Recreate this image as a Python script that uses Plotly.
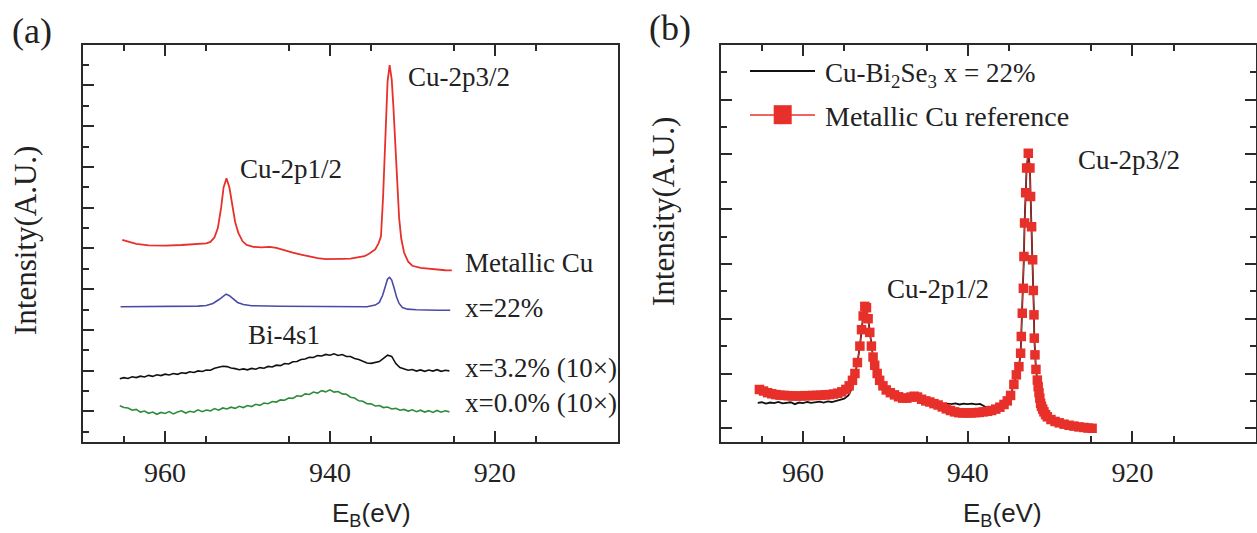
import plotly.graph_objects as go

# ---------------- Panel (a) data ----------------
E_noisy = [965.5, 965.0, 964.5, 964.0, 963.5, 963.0, 962.5, 962.0, 961.5, 961.0,
           960.5, 960.0, 959.5, 959.0, 958.5, 958.0, 957.5, 957.0, 956.5, 956.0,
           955.5, 955.0, 954.5, 954.0, 953.5, 953.0, 952.5, 952.0, 951.5, 951.0,
           950.5, 950.0, 949.5, 949.0, 948.5, 948.0, 947.5, 947.0, 946.5, 946.0,
           945.5, 945.0, 944.5, 944.0, 943.5, 943.0, 942.5, 942.0, 941.5, 941.0,
           940.5, 940.0, 939.5, 939.0, 938.5, 938.0, 937.5, 937.0, 936.5, 936.0,
           935.5, 935.0, 934.5, 934.0, 933.5, 933.0, 932.5, 932.0, 931.5, 931.0,
           930.5, 930.0, 929.5, 929.0, 928.5, 928.0, 927.5, 927.0, 926.5, 926.0,
           925.5]

x00_y = [1.28, 1.19, 1.17, 1.06, 1.10, 0.97, 1.02, 0.91, 0.97, 0.86,
         0.95, 0.90, 0.99, 0.88, 0.97, 1.03, 0.92, 1.01, 0.96, 1.08,
         0.99, 1.07, 1.03, 1.14, 1.06, 1.17, 1.12, 1.21, 1.15, 1.25,
         1.19, 1.29, 1.24, 1.35, 1.30, 1.41, 1.38, 1.49, 1.46, 1.57,
         1.55, 1.66, 1.64, 1.77, 1.74, 1.86, 1.83, 1.95, 1.90, 2.02,
         1.96, 2.06, 1.95, 1.98, 1.86, 1.84, 1.70, 1.66, 1.52, 1.50,
         1.38, 1.37, 1.27, 1.29, 1.19, 1.22, 1.12, 1.15, 1.06, 1.10,
         1.02, 1.08, 0.99, 1.06, 0.97, 1.04, 0.95, 1.05, 0.96, 1.03,
         0.98]

x32_y = [2.60, 2.66, 2.62, 2.70, 2.66, 2.73, 2.69, 2.77, 2.72, 2.80,
         2.76, 2.83, 2.79, 2.86, 2.82, 2.90, 2.87, 2.95, 2.91, 2.99,
         2.96, 3.03, 3.02, 3.12, 3.17, 3.22, 3.20, 3.13, 3.10, 3.05,
         3.09, 3.04, 3.11, 3.07, 3.15, 3.12, 3.21, 3.18, 3.27, 3.25,
         3.35, 3.33, 3.44, 3.45, 3.55, 3.57, 3.66, 3.65, 3.74, 3.72,
         3.80, 3.76, 3.83, 3.75, 3.79, 3.70, 3.70, 3.60, 3.55, 3.45,
         3.38, 3.36, 3.40, 3.45, 3.60, 3.76, 3.70, 3.35, 3.15, 3.08,
         3.02, 3.06, 2.98, 3.04, 2.97, 3.03, 2.98, 3.05, 2.97, 3.02,
         2.99]

x22_E = [965.4, 960.0, 956.0, 955.0, 954.2, 953.5, 953.0, 952.6, 952.2, 951.7,
         951.2, 950.5, 949.5, 946.0, 942.0, 938.0, 935.5, 934.5, 934.0, 933.6,
         933.3, 933.0, 932.75, 932.5, 932.2, 931.9, 931.6, 931.2, 930.6, 929.5,
         927.0, 925.4]
x22_y = [6.14, 6.15, 6.17, 6.20, 6.30, 6.48, 6.65, 6.76, 6.68, 6.50,
         6.35, 6.25, 6.19, 6.16, 6.14, 6.13, 6.14, 6.22, 6.35, 6.70,
         7.15, 7.50, 7.58, 7.45, 7.05, 6.60, 6.30, 6.10, 6.02, 5.99,
         5.97, 5.97]

metal_E = [965.2, 964.5, 963.5, 962.0, 960.0, 958.0, 956.0, 955.0, 954.5, 954.0,
           953.6, 953.2, 952.9, 952.55, 952.2, 951.9, 951.5, 951.1, 950.6, 950.1,
           949.3, 948.3, 947.3, 946.5, 945.5, 944.5, 943.5, 942.5, 941.5, 940.5,
           939.5, 938.5, 937.5, 936.5, 935.8, 935.2, 934.5, 934.1, 933.8, 933.55,
           933.3, 933.0, 932.75, 932.5, 932.3, 932.1, 931.85, 931.6, 931.35, 931.0,
           930.5, 930.0, 929.0, 928.0, 927.0, 926.0, 925.2]
metal_y = [9.42, 9.33, 9.22, 9.15, 9.14, 9.17, 9.20, 9.25, 9.32, 9.55,
           10.00, 11.00, 12.00, 12.44, 12.00, 11.20, 10.30, 9.75, 9.35, 9.17,
           9.08, 9.05, 9.08, 9.03, 8.90, 8.80, 8.70, 8.60, 8.52, 8.48,
           8.47, 8.49, 8.50, 8.55, 8.62, 8.75, 8.95, 9.25, 9.60, 11.50,
           14.60, 17.20, 18.00, 17.30, 16.00, 14.50, 12.20, 10.50, 9.50, 8.80,
           8.35, 8.15, 8.05, 8.00, 7.95, 7.93, 7.92]

# ---------------- Panel (b) data ----------------
ref_E = [965.3, 964.8, 964.3, 963.8, 963.3, 962.8, 962.3, 961.8, 961.3, 960.8,
         960.3, 959.8, 959.3, 958.8, 958.3, 957.8, 957.3, 956.8, 956.3, 955.8,
         955.3, 954.8, 954.4, 954.0, 953.7, 953.4, 953.1, 952.9, 952.7, 952.5,
         952.3, 952.1, 951.9, 951.7, 951.5, 951.3, 951.0, 950.7, 950.3, 949.9,
         949.4, 948.9, 948.4, 947.9, 947.4, 946.9, 946.5, 946.1, 945.6, 945.1,
         944.6, 944.1, 943.6, 943.1, 942.6, 942.1, 941.6, 941.1, 940.6, 940.1,
         939.6, 939.1, 938.6, 938.1, 937.6, 937.1, 936.6, 936.1, 935.6, 935.2,
         934.8, 934.4, 934.1, 933.79, 933.58, 933.5, 933.38, 933.25, 933.18, 933.1,
         932.97, 932.85, 932.65, 932.45, 932.37, 932.25, 932.12, 932.04, 931.96, 931.92,
         931.84, 931.72, 931.55, 931.45, 931.35, 931.25, 931.15, 931.05, 930.9, 930.75,
         930.55, 930.34, 929.9, 929.4, 928.9, 928.3, 927.7, 927.1, 926.5, 925.9,
         925.4, 924.9]
ref_y = [1.42, 1.36, 1.30, 1.26, 1.23, 1.21, 1.20, 1.19, 1.18, 1.18,
         1.18, 1.19, 1.19, 1.20, 1.20, 1.21, 1.22, 1.23, 1.25, 1.28,
         1.33, 1.42, 1.55, 1.75, 2.00, 2.40, 3.00, 3.60, 4.10, 4.45,
         4.40, 4.00, 3.50, 3.00, 2.60, 2.30, 2.00, 1.75, 1.55, 1.40,
         1.30, 1.22, 1.15, 1.10, 1.10, 1.14, 1.17, 1.14, 1.06, 1.00,
         0.96, 0.90, 0.85, 0.78, 0.71, 0.65, 0.60, 0.57, 0.56, 0.56,
         0.56, 0.57, 0.58, 0.60, 0.62, 0.65, 0.70, 0.77, 0.87, 1.00,
         1.20, 1.60, 1.95, 2.25, 2.74, 3.35, 4.20, 5.11, 6.27, 7.49,
         8.60, 9.50, 10.04, 9.50, 8.46, 7.36, 6.15, 5.03, 4.14, 3.29,
         2.68, 2.15, 1.76, 1.52, 1.30, 1.10, 0.91, 0.80, 0.70, 0.60,
         0.50, 0.42, 0.32, 0.25, 0.20, 0.15, 0.11, 0.08, 0.05, 0.03,
         0.01, 0.00]

cubs_E = [965.5, 965.0, 964.5, 964.0, 963.5, 963.0, 962.5, 962.0, 961.5, 961.0,
          960.5, 960.0, 959.5, 959.0, 958.5, 958.0, 957.5, 957.0, 956.5, 956.0,
          955.5, 955.0, 954.5, 954.0, 953.7, 953.4, 953.1, 952.9, 952.7, 952.5,
          952.3, 952.1, 951.9, 951.7, 951.5, 951.3, 951.0, 950.7, 950.3, 949.9,
          949.5, 949.2, 948.8, 948.4, 947.9, 947.4, 946.9, 946.5, 946.0, 945.5,
          945.0, 944.5, 944.0, 943.5, 943.0, 942.5, 942.0, 941.5, 941.0, 940.5,
          940.0, 939.5, 939.0, 938.5, 938.0, 937.5, 937.0, 936.5, 936.0, 935.6,
          935.2, 934.8, 934.4, 934.1, 933.79, 933.58, 933.5, 933.38, 933.25, 933.18,
          933.1, 932.97, 932.85, 932.65, 932.45, 932.37, 932.25, 932.12, 932.04, 931.96,
          931.92, 931.84, 931.72, 931.55, 931.35, 931.15, 930.75, 930.34, 929.4, 928.1,
          926.7, 925.0]
cubs_y = [0.93, 0.95, 0.90, 0.94, 0.92, 0.96, 0.91, 0.93, 0.95, 0.88,
          0.94, 0.92, 0.96, 0.93, 0.95, 0.97, 0.94, 0.98, 0.96, 1.00,
          1.02, 1.08, 1.20, 1.50, 1.95, 2.40, 3.00, 3.60, 4.10, 4.45,
          4.40, 4.00, 3.50, 3.00, 2.60, 2.30, 2.00, 1.75, 1.60, 1.50,
          1.42, 1.40, 1.30, 1.25, 1.18, 1.12, 1.15, 1.17, 1.12, 1.05,
          1.00, 0.96, 0.92, 0.88, 0.86, 0.90, 0.88, 0.91, 0.87, 0.90,
          0.88, 0.90, 0.87, 0.89, 0.82, 0.72, 0.70, 0.72, 0.77, 0.87,
          1.00, 1.20, 1.60, 1.95, 2.25, 2.74, 3.35, 4.20, 5.11, 6.27,
          7.49, 8.60, 9.50, 10.04, 9.50, 8.46, 7.36, 6.15, 5.03, 4.14,
          3.29, 2.68, 2.15, 1.76, 1.30, 0.91, 0.60, 0.42, 0.25, 0.13,
          0.06, 0.00]

x_label_ticks = [960, 940, 920]
x_long_unlabeled = [950, 930, 910]
x_minor = [965, 955, 945, 935, 925, 915]

# ---------------- styling ----------------
W, H = 1257, 533
SERIF = "Liberation Serif"
SANS = "Liberation Sans"
AX = "#2a2a2a"
RED = "#e8302a"


def px(x):
    return x / W


def py(y):
    return 1 - y / H


fig = go.Figure()

# panel (a)
fig.add_trace(go.Scatter(x=E_noisy, y=x00_y, mode="lines", line=dict(color="#2e8b3a", width=1.6),
                         xaxis="x", yaxis="y", showlegend=False))
fig.add_trace(go.Scatter(x=E_noisy, y=x32_y, mode="lines", line=dict(color="#111111", width=1.6),
                         xaxis="x", yaxis="y", showlegend=False))
fig.add_trace(go.Scatter(x=x22_E, y=x22_y, mode="lines", line=dict(color="#4b4ba6", width=1.6),
                         xaxis="x", yaxis="y", showlegend=False))
fig.add_trace(go.Scatter(x=metal_E, y=metal_y, mode="lines", line=dict(color=RED, width=1.8),
                         xaxis="x", yaxis="y", showlegend=False))

# panel (b)
fig.add_trace(go.Scatter(x=cubs_E, y=cubs_y, mode="lines", line=dict(color="#111111", width=1.8),
                         xaxis="x2", yaxis="y2", showlegend=False))
fig.add_trace(go.Scatter(x=ref_E, y=ref_y, mode="lines+markers", line=dict(color=RED, width=1),
                         marker=dict(symbol="square", size=9.5, color=RED, line=dict(width=0)),
                         xaxis="x2", yaxis="y2", showlegend=False))

DOM_A = [82.7 / W, 618.3 / W]
DOM_B = [720.7 / W, 1256 / W]

common_x = dict(range=[970, 905], tickmode="array", tickvals=x_label_ticks,
                ticktext=[str(v) for v in x_label_ticks],
                ticks="inside", ticklen=11, tickwidth=2, tickcolor=AX,
                minor=dict(tickmode="array", tickvals=x_minor, ticks="inside", ticklen=6,
                           tickwidth=2, tickcolor=AX, showgrid=False),
                showline=True, linewidth=2, linecolor=AX, mirror="ticks",
                showgrid=False, zeroline=False, ticklabelstandoff=4,
                tickfont=dict(family=SERIF, size=28, color="#222"))

overlay_x = dict(range=[970, 905], tickmode="array", tickvals=x_long_unlabeled,
                 ticks="inside", ticklen=11, tickwidth=2, tickcolor=AX, showticklabels=False,
                 showline=True, linewidth=2, linecolor=AX, mirror="ticks",
                 showgrid=False, zeroline=False)

fig.update_layout(
    width=W, height=H, margin=dict(l=0, r=0, t=0, b=0),
    paper_bgcolor="white", plot_bgcolor="white", showlegend=False,
    xaxis=dict(domain=DOM_A, anchor="y", **common_x),
    xaxis2=dict(domain=DOM_B, anchor="y2", **common_x),
    xaxis3=dict(domain=DOM_A, anchor="y", overlaying="x", **overlay_x),
    xaxis4=dict(domain=DOM_B, anchor="y2", overlaying="x2", **overlay_x),
    yaxis=dict(domain=[py(442), py(44.7)], anchor="x", range=[-0.5, 19],
               tickmode="array", tickvals=[1, 3, 5, 7, 9, 11, 13, 15, 17],
               ticks="inside", ticklen=11, tickwidth=2, tickcolor=AX,
               minor=dict(tickmode="array", tickvals=[0, 2, 4, 6, 8, 10, 12, 14, 16, 18],
                          ticks="inside", ticklen=6, tickwidth=2, tickcolor=AX, showgrid=False),
               showticklabels=False, showline=True, linewidth=2, linecolor=AX, mirror=True,
               showgrid=False, zeroline=False),
    yaxis2=dict(domain=[py(442), py(44.7)], anchor="x2", range=[-0.5, 14],
                tickmode="array", tickvals=[0, 2, 4, 6, 8, 10, 12],
                ticks="inside", ticklen=11, tickwidth=2, tickcolor=AX,
                minor=dict(tickmode="array", tickvals=[1, 3, 5, 7, 9, 11, 13],
                           ticks="inside", ticklen=6, tickwidth=2, tickcolor=AX, showgrid=False),
                showticklabels=False, showline=True, linewidth=2, linecolor=AX, mirror="ticks",
                showgrid=False, zeroline=False),
)

TF = dict(family=SERIF, size=27, color="#222")
ann = []


def label(text, x, y, xref, yref, xanchor="left", font=TF, **kw):
    ann.append(dict(text=text, x=x, y=y, xref=xref, yref=yref, xanchor=xanchor,
                    yanchor="middle", showarrow=False, font=font, **kw))


# panel (a) annotations (data coords)
label("Cu-2p3/2", 930.8, 17.4, "x", "y")
label("Cu-2p1/2", 951.2, 12.9, "x", "y")
label("Metallic Cu", 923.8, 8.3, "x", "y")
label("x=22%", 923.8, 6.1, "x", "y")
label("Bi-4s1", 950.2, 4.75, "x", "y")
label("x=3.2% (10\u00d7)", 923.8, 3.15, "x", "y")
label("x=0.0% (10\u00d7)", 923.8, 1.4, "x", "y")
# panel (b) annotations
label("Cu-2p3/2", 926.9, 9.8, "x2", "y2")
label("Cu-2p1/2", 950.1, 5.1, "x2", "y2")

# panel letters, axis titles
label("(a)", px(32), py(31), "paper", "paper", xanchor="center", font=dict(family=SERIF, size=36, color="#222"))
label("(b)", px(670), py(28), "paper", "paper", xanchor="center", font=dict(family=SERIF, size=36, color="#222"))
label("Intensity(A.U.)", px(25), py(241), "paper", "paper", xanchor="center",
      font=dict(family=SERIF, size=31, color="#222"), textangle=-90)
label("Intensity(A.U.)", px(663), py(212), "paper", "paper", xanchor="center",
      font=dict(family=SERIF, size=31, color="#222"), textangle=-90)
label("E<sub>B</sub>(eV)", px(371), py(514), "paper", "paper", xanchor="center",
      font=dict(family=SANS, size=26, color="#222"))
label("E<sub>B</sub>(eV)", px(1002), py(514), "paper", "paper", xanchor="center",
      font=dict(family=SANS, size=26, color="#222"))

# legend (panel b)
label("Cu-Bi<sub>2</sub>Se<sub>3</sub> x = 22%", px(823), py(75), "paper", "paper")
label("Metallic Cu reference", px(823), py(117), "paper", "paper",
      font=dict(family=SERIF, size=28, color="#222"))

fig.update_layout(annotations=ann)

shapes = [
    dict(type="line", xref="paper", yref="paper", x0=px(750), x1=px(815), y0=py(71), y1=py(71),
         line=dict(color="#111111", width=2)),
    dict(type="line", xref="paper", yref="paper", x0=px(750), x1=px(815), y0=py(115), y1=py(115),
         line=dict(color=RED, width=1.5)),
    dict(type="rect", xref="paper", yref="paper", x0=px(773.7), x1=px(791.7), y0=py(124.2), y1=py(105.2),
         line=dict(width=0), fillcolor=RED),
]
fig.update_layout(shapes=shapes)

fig.write_html("out.html")
